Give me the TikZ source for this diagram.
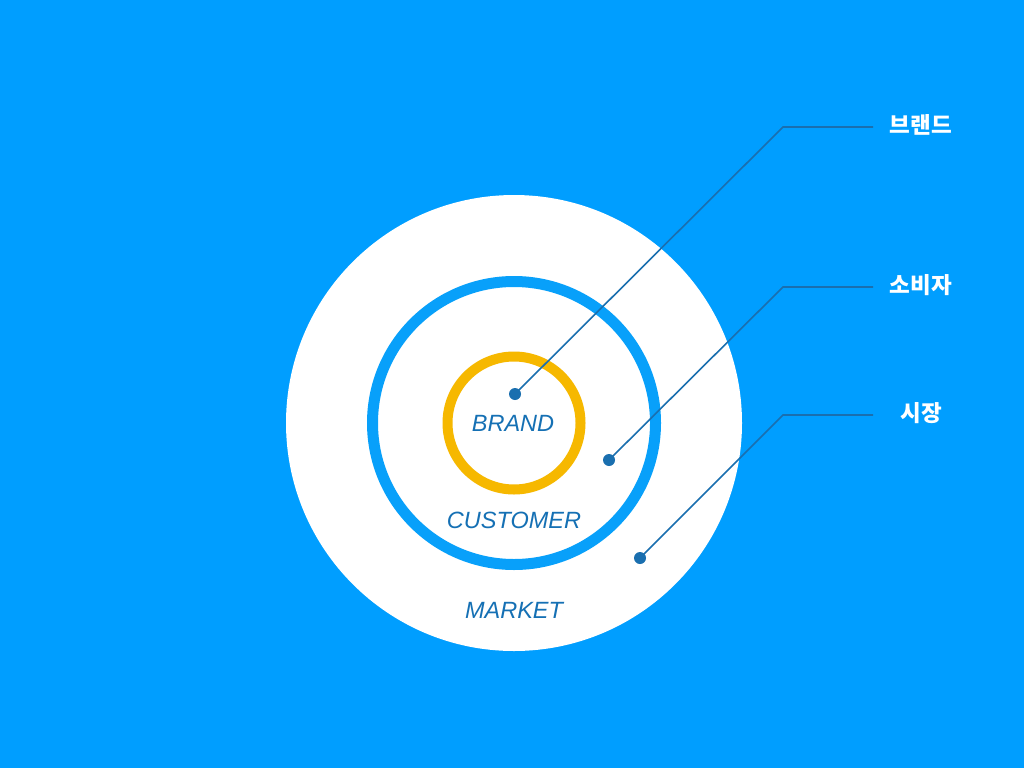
\documentclass[tikz,border=0pt]{standalone}
\usepackage{fontspec}
\setmainfont{Liberation Sans}
\newfontfamily\krfont{Noto Sans CJK KR}
\definecolor{bg}{HTML}{009EFF}
\definecolor{ringblue}{HTML}{08A0FA}
\definecolor{ringyellow}{HTML}{F6B800}
\definecolor{ink}{HTML}{1570B4}
\definecolor{leader}{HTML}{1A6FAF}
\tikzset{
  lbl/.style={text=ink, font=\fontsize{23.5}{26}\selectfont\itshape, inner sep=0pt},
  klbl/.style={text=white, font=\krfont\bfseries\fontsize{22.5}{25}\selectfont, inner sep=0pt},
  dotnode/.style={circle, fill=leader, minimum size=12pt, inner sep=0pt},
  leaderline/.style={draw=leader, line width=1.6pt},
}
\begin{document}
\begin{tikzpicture}[x=1pt,y=-1pt]
\fill[bg] (0,0) rectangle (1024,768);
\useasboundingbox (0,0) rectangle (1024,768);
\fill[white] (514,423) circle[radius=228];
\draw[ringblue, line width=11pt] (514,423) circle[radius=141.5];
\draw[ringyellow, line width=10pt] (514,423) circle[radius=66.5];
\node[lbl] (brand) at (513,423) {BRAND};
\node[lbl] (customer) at (514,520) {CUSTOMER};
\node[lbl] (market) at (514,610) {MARKET};
\node[dotnode] (d1) at (515,394) {};
\node[dotnode] (d2) at (609,460) {};
\node[dotnode] (d3) at (640,558) {};
\coordinate (k1) at (783,127);
\coordinate (k2) at (783,287);
\coordinate (k3) at (783,415);
\coordinate (e1) at (873,127);
\coordinate (e2) at (873,287);
\coordinate (e3) at (873,415);
\draw[leaderline] (d1.center) -- (k1) -- (e1);
\draw[leaderline] (d2.center) -- (k2) -- (e2);
\draw[leaderline] (d3.center) -- (k3) -- (e3);
\node[klbl] (t1) at (921,125) {브랜드};
\node[klbl] (t2) at (921,285) {소비자};
\node[klbl] (t3) at (921,413) {시장};
\end{tikzpicture}
\end{document}
